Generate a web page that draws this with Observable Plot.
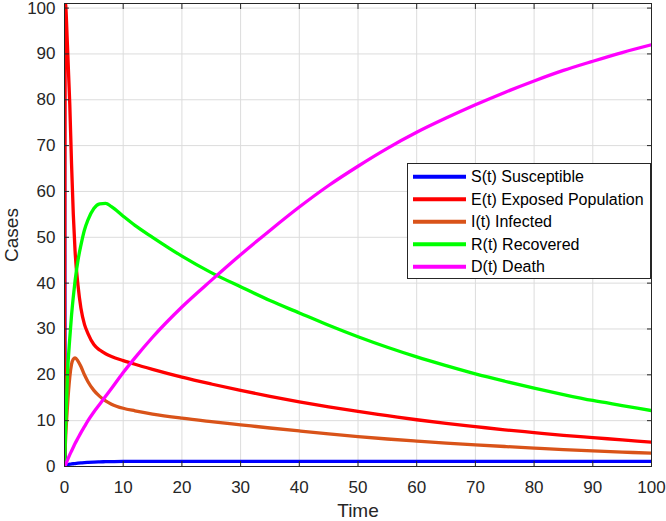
<!DOCTYPE html>
<html>
<head>
<meta charset="utf-8">
<script src="https://cdn.jsdelivr.net/npm/d3@7"></script>
<script src="https://cdn.jsdelivr.net/npm/@observablehq/plot@0.6"></script>
<style>
  html, body { margin: 0; padding: 0; background: #fff; }
  #chart { width: 666px; height: 521px; }
</style>
</head>
<body>
<div id="chart"></div>
<script>
// ---- data ----
const time = [0, 0.15, 0.5, 0.9, 1.2, 1.5, 1.8, 2.3, 2.8, 3.4, 4, 5, 6, 7, 8, 10, 12, 15, 20, 25, 30, 35, 40, 45, 50, 55, 60, 65, 70, 75, 80, 85, 90, 95, 100];
const susceptible = [100, 0.3, 0.4, 0.5, 0.55, 0.6, 0.65, 0.72, 0.78, 0.85, 0.9, 0.97, 1.02, 1.05, 1.07, 1.1, 1.1, 1.1, 1.1, 1.1, 1.1, 1.1, 1.1, 1.1, 1.1, 1.1, 1.1, 1.1, 1.1, 1.1, 1.1, 1.1, 1.1, 1.1, 1.1];
const exposed = [10, 101, 92, 79, 66, 55, 47, 39.5, 34.5, 31, 29, 26.6, 25.4, 24.6, 24.0, 23.1, 22.3, 21.2, 19.5, 18.0, 16.6, 15.3, 14.1, 13.0, 12.0, 11.1, 10.2, 9.4, 8.7, 8.0, 7.4, 6.8, 6.3, 5.8, 5.3];
const infected = [0, 5, 13, 19.5, 22.3, 23.4, 23.7, 23.0, 21.8, 20.0, 18.5, 16.6, 15.3, 14.3, 13.6, 12.7, 12.15, 11.45, 10.55, 9.8, 9.1, 8.4, 7.75, 7.12, 6.52, 6.0, 5.55, 5.12, 4.72, 4.36, 4.02, 3.7, 3.41, 3.15, 2.9];
const recovered = [0, 7, 20, 28, 33, 37, 40.5, 45, 48.3, 51.6, 53.8, 56.3, 57.3, 57.4, 56.7, 54.6, 52.6, 50.0, 45.9, 42.3, 39.2, 36.2, 33.5, 30.8, 28.3, 26.0, 23.9, 22.0, 20.2, 18.6, 17.1, 15.7, 14.4, 13.3, 12.2];
const death = [0, 0.3, 1.4, 2.6, 3.4, 4.2, 5.0, 6.2, 7.4, 8.7, 10.0, 11.9, 13.6, 15.3, 17.0, 20.5, 23.7, 28.2, 34.8, 40.6, 46.2, 51.5, 56.6, 61.3, 65.5, 69.4, 72.9, 76.0, 78.9, 81.6, 84.1, 86.4, 88.4, 90.3, 92.0];

const seriesNames = ["S(t) Susceptible", "E(t) Exposed Population", "I(t) Infected", "R(t) Recovered", "D(t) Death"];
const seriesColors = ["#0000FF", "#FF0000", "#D95319", "#00FF00", "#FF00FF"];
const seriesValues = [susceptible, exposed, infected, recovered, death];

const xTicks = [0, 10, 20, 30, 40, 50, 60, 70, 80, 90, 100];
const yTicks = [0, 10, 20, 30, 40, 50, 60, 70, 80, 90, 100];

// ---- chart ----
const font = "'Liberation Sans', Arial, Helvetica, sans-serif";
const ink = "#262626";

const plot = Plot.plot({
  width: 666,
  height: 521,
  marginLeft: 64,
  marginRight: 15,
  marginTop: 3,
  marginBottom: 55,
  style: { fontFamily: font, fontSize: "17px", color: ink, background: "#fff", overflow: "visible" },
  x: { domain: [0, 100], ticks: xTicks },
  y: { domain: [0, 101], ticks: yTicks },
  marks: [
    Plot.gridX(xTicks, { stroke: "#dcdcdc", strokeOpacity: 1 }),
    Plot.gridY(yTicks, { stroke: "#dcdcdc", strokeOpacity: 1 }),
    ...seriesValues.map((vals, k) =>
      Plot.line(vals, { x: time, y: vals, stroke: seriesColors[k], strokeWidth: 3.3, curve: "monotone-x", clip: true })
    ),
    Plot.frame({ stroke: ink, strokeWidth: 1 }),
    Plot.axisX(xTicks, { anchor: "bottom", tickSize: 0, tickPadding: 14, label: "Time", labelAnchor: "center", labelArrow: "none", labelOffset: 50, fill: ink }),
    Plot.axisX(xTicks, { anchor: "bottom", tickSize: -5, text: null, stroke: ink }),
    Plot.axisX(xTicks, { anchor: "top", tickSize: -5, text: null, label: null, stroke: ink }),
    Plot.axisY(yTicks, { anchor: "left", tickSize: 0, tickPadding: 9, label: "Cases", labelAnchor: "center", labelArrow: "none", labelOffset: 60, fill: ink }),
    Plot.axisY(yTicks, { anchor: "left", tickSize: -5, text: null, label: null, stroke: ink }),
    Plot.axisY(yTicks, { anchor: "right", tickSize: -5, text: null, label: null, stroke: ink })
  ]
});

document.getElementById("chart").appendChild(plot);

// axis label font size
const svg = d3.select(plot);
svg.selectAll('g[aria-label="x-axis label"], g[aria-label="y-axis label"]').attr("font-size", 19);

// ---- legend (inside the axes, top-right like the reference) ----
const lg = { x: 407, y: 163, w: 244, h: 115, row: 22.5, first: 13.7 };
const legend = svg.append("g").attr("aria-label", "legend").attr("text-anchor", "start");
legend.append("rect")
  .attr("x", lg.x + 0.5).attr("y", lg.y + 0.5)
  .attr("width", lg.w - 1).attr("height", lg.h)
  .attr("fill", "#fff").attr("stroke", ink).attr("stroke-width", 1);
seriesNames.forEach((name, i) => {
  const cy = lg.y + lg.first + i * lg.row;
  legend.append("line")
    .attr("x1", lg.x + 6).attr("x2", lg.x + 59)
    .attr("y1", cy).attr("y2", cy)
    .attr("stroke", seriesColors[i]).attr("stroke-width", 4);
  legend.append("text")
    .attr("x", lg.x + 64).attr("y", cy).attr("dy", "0.35em")
    .attr("text-anchor", "start")
    .attr("font-family", font).attr("font-size", 16).attr("fill", "#000")
    .text(name);
});
</script>
</body>
</html>
